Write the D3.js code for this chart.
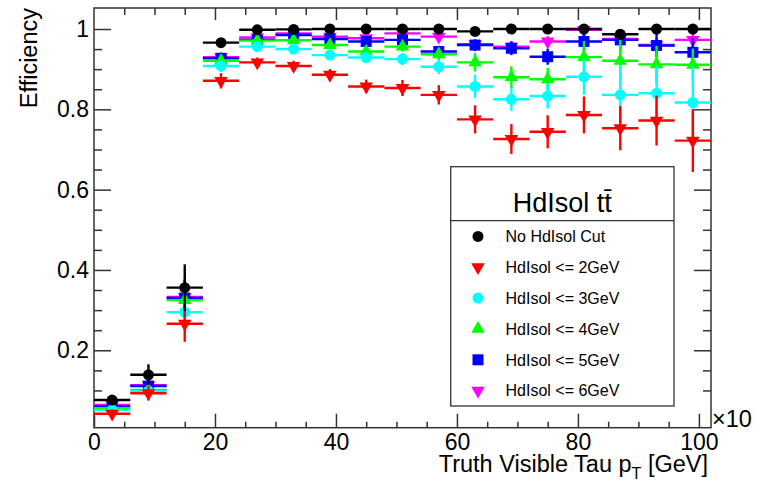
<!DOCTYPE html>
<html>
<head>
<meta charset="utf-8">
<script src="https://cdn.jsdelivr.net/npm/d3@7"></script>
<style>
  body { margin: 0; background: #fff; }
  svg { display: block; }
  text { font-family: "Liberation Sans", Arial, sans-serif; fill: #000; }
</style>
</head>
<body>
<script>
// bin centres of truth visible tau pT (6 GeV bins)
var ptBins = [3, 9, 15, 21, 27, 33, 39, 45, 51, 57, 63, 69, 75, 81, 87, 93, 99];
var binHalfWidth = 3;

var effNoCut = [0.076, 0.139, 0.356, 0.966, 0.998, 0.999, 1.0, 1.0, 1.0, 1.0, 0.994, 1.0, 1.0, 1.0, 0.987, 1.0, 1.0];
var errNoCut = [0.01, 0.026, 0.058, 0.012, 0.004, 0.003, 0.003, 0.003, 0.003, 0.003, 0.006, 0.003, 0.003, 0.003, 0.01, 0.003, 0.003];

var eff2 = [0.042, 0.093, 0.266, 0.871, 0.917, 0.908, 0.886, 0.857, 0.853, 0.836, 0.775, 0.726, 0.744, 0.786, 0.753, 0.772, 0.722];
var err2 = [0.01, 0.018, 0.045, 0.019, 0.012, 0.013, 0.014, 0.017, 0.02, 0.024, 0.035, 0.037, 0.041, 0.046, 0.055, 0.062, 0.078];

var eff3 = [0.051, 0.098, 0.295, 0.908, 0.956, 0.95, 0.935, 0.929, 0.925, 0.906, 0.857, 0.825, 0.833, 0.881, 0.836, 0.84, 0.817];
var err3 = [0.01, 0.017, 0.045, 0.015, 0.009, 0.01, 0.011, 0.013, 0.015, 0.018, 0.029, 0.029, 0.031, 0.045, 0.075, 0.07, 0.09];

var eff4 = [0.056, 0.101, 0.325, 0.921, 0.971, 0.972, 0.96, 0.944, 0.956, 0.937, 0.917, 0.88, 0.875, 0.93, 0.921, 0.912, 0.911];
var err4 = [0.01, 0.016, 0.045, 0.014, 0.008, 0.008, 0.01, 0.012, 0.012, 0.016, 0.023, 0.027, 0.028, 0.04, 0.052, 0.046, 0.04];

var eff5 = [0.06, 0.111, 0.33, 0.927, 0.973, 0.985, 0.975, 0.969, 0.973, 0.944, 0.96, 0.952, 0.931, 0.969, 0.973, 0.959, 0.942];
var err5 = [0.01, 0.016, 0.045, 0.013, 0.006, 0.005, 0.007, 0.008, 0.009, 0.014, 0.014, 0.017, 0.02, 0.028, 0.027, 0.03, 0.035];

var eff6 = [0.064, 0.113, 0.333, 0.93, 0.979, 0.989, 0.981, 0.977, 0.989, 0.981, 0.962, 0.956, 0.969, 0.998, 0.975, 0.96, 0.973];
var err6 = [0.01, 0.015, 0.045, 0.012, 0.005, 0.004, 0.005, 0.006, 0.005, 0.008, 0.012, 0.014, 0.013, 0.006, 0.014, 0.018, 0.02];

var xMajor = [0, 20, 40, 60, 80, 100];
var yMajor = [0.2, 0.4, 0.6, 0.8, 1.0];

// legend order (drawing order is reversed so black ends on top)
var series = [
    { label: "No HdIsol Cut",   eff: effNoCut, err: errNoCut, color: "#000000", shape: "circle" },
    { label: "HdIsol <= 2GeV", eff: eff2, err: err2, color: "#ff0000", shape: "down" },
    { label: "HdIsol <= 3GeV", eff: eff3, err: err3, color: "#00ffff", shape: "circle" },
    { label: "HdIsol <= 4GeV", eff: eff4, err: err4, color: "#00ff00", shape: "up" },
    { label: "HdIsol <= 5GeV", eff: eff5, err: err5, color: "#0000ff", shape: "square" },
    { label: "HdIsol <= 6GeV", eff: eff6, err: err6, color: "#ff00ff", shape: "down" }
];

var width = 758, height = 484;
var frame = { left: 94, right: 711, top: 8, bottom: 427.7 };
var frameColor = "#333";

var svg = d3.select("body").append("svg")
    .attr("width", width)
    .attr("height", height);

var x = d3.scaleLinear().domain([0, 102]).range([frame.left, frame.right]);
var y = d3.scaleLinear().domain([0.0072, 1.0523]).range([frame.bottom, frame.top]);

var xMinor = d3.range(5, 101, 5).filter(d => xMajor.indexOf(d) < 0);
var yMinor = d3.range(0.1, 1.04, 0.05).map(d => +d.toFixed(2)).filter(d => yMajor.indexOf(d) < 0);

function styleAxis(g) {
    g.select(".domain").remove();
    g.selectAll(".tick line").attr("stroke", frameColor).attr("stroke-width", 1.5);
}

// left axis
svg.append("g")
    .attr("transform", `translate(${frame.left},0)`)
    .call(d3.axisLeft(y).tickValues(yMajor).tickSize(-17).tickPadding(5)
        .tickFormat(d => d === 1 ? "1" : d3.format(".1f")(d)))
    .call(styleAxis)
    .call(g => g.selectAll("text").attr("font-size", 23).attr("font-family", null));
svg.append("g")
    .attr("transform", `translate(${frame.left},0)`)
    .call(d3.axisLeft(y).tickValues(yMinor).tickSize(-8).tickFormat(""))
    .call(styleAxis);

// right axis
svg.append("g")
    .attr("transform", `translate(${frame.right},0)`)
    .call(d3.axisRight(y).tickValues(yMajor).tickSize(-17).tickFormat(""))
    .call(styleAxis);
svg.append("g")
    .attr("transform", `translate(${frame.right},0)`)
    .call(d3.axisRight(y).tickValues(yMinor).tickSize(-8).tickFormat(""))
    .call(styleAxis);

// bottom axis
svg.append("g")
    .attr("transform", `translate(0,${frame.bottom})`)
    .call(d3.axisBottom(x).tickValues(xMajor).tickSize(-14).tickPadding(6).tickFormat(d3.format("d")))
    .call(styleAxis)
    .call(g => g.selectAll("text").attr("font-size", 23).attr("font-family", null));
svg.append("g")
    .attr("transform", `translate(0,${frame.bottom})`)
    .call(d3.axisBottom(x).tickValues(xMinor).tickSize(-6).tickFormat(""))
    .call(styleAxis);

// top axis
svg.append("g")
    .attr("transform", `translate(0,${frame.top})`)
    .call(d3.axisTop(x).tickValues(xMajor.filter(d => d > 0)).tickSize(-12).tickFormat(""))
    .call(styleAxis);
svg.append("g")
    .attr("transform", `translate(0,${frame.top})`)
    .call(d3.axisTop(x).tickValues(xMinor).tickSize(-7).tickFormat(""))
    .call(styleAxis);

// frame
svg.append("rect")
    .attr("x", frame.left).attr("y", frame.top)
    .attr("width", frame.right - frame.left)
    .attr("height", frame.bottom - frame.top)
    .attr("fill", "none")
    .attr("stroke", frameColor)
    .attr("stroke-width", 1.5);

// axis titles
var xTitle = svg.append("text")
    .attr("x", 708).attr("y", 471.5)
    .attr("text-anchor", "end")
    .attr("font-size", 23.5);
xTitle.append("tspan").text("Truth Visible Tau p");
xTitle.append("tspan").attr("font-size", 16).attr("dy", 7).text("T");
xTitle.append("tspan").attr("dy", -7).text(" [GeV]");

svg.append("text")
    .attr("transform", "translate(37,8) rotate(-90)")
    .attr("text-anchor", "end")
    .attr("font-size", 23.5)
    .text("Efficiency");

svg.append("text")
    .attr("x", 712).attr("y", 427)
    .attr("font-size", 23.5)
    .text("\u00d710");

function symbolPath(shape) {
    if (shape === "circle") return d3.symbol(d3.symbolCircle, 95)();
    if (shape === "square") return d3.symbol(d3.symbolSquare, 121)();
    return d3.symbol(d3.symbolTriangle, 80)();
}
function symbolTransform(shape, px, py) {
    return `translate(${px},${py})` + (shape === "down" ? " rotate(180)" : "");
}

// data: draw in reverse legend order
series.slice().reverse().forEach(function (s) {
    var pts = ptBins.map((c, i) => ({ c: c, v: s.eff[i], e: s.err[i] }));
    var g = svg.append("g").attr("stroke", s.color).attr("stroke-width", 2.4);

    g.selectAll(".xerr").data(pts).enter().append("line")
        .attr("x1", d => x(d.c - binHalfWidth)).attr("x2", d => x(d.c + binHalfWidth))
        .attr("y1", d => y(d.v)).attr("y2", d => y(d.v));

    g.selectAll(".yerr").data(pts).enter().append("line")
        .attr("x1", d => x(d.c)).attr("x2", d => x(d.c))
        .attr("y1", d => y(d.v - d.e)).attr("y2", d => y(Math.min(d.v + d.e, 1.0)));

    g.selectAll("path").data(pts).enter().append("path")
        .attr("d", symbolPath(s.shape))
        .attr("transform", d => symbolTransform(s.shape, x(d.c), y(d.v)))
        .attr("fill", s.color)
        .attr("stroke", "none");
});

// legend
var legend = { x0: 450.7, y0: 166.7, x1: 674, y1: 406, headerY: 220.7 };
svg.append("rect")
    .attr("x", legend.x0).attr("y", legend.y0)
    .attr("width", legend.x1 - legend.x0)
    .attr("height", legend.y1 - legend.y0)
    .attr("fill", "#fff")
    .attr("stroke", frameColor)
    .attr("stroke-width", 1.3);
svg.append("line")
    .attr("x1", legend.x0).attr("x2", legend.x1)
    .attr("y1", legend.headerY).attr("y2", legend.headerY)
    .attr("stroke", frameColor)
    .attr("stroke-width", 1.3);
svg.append("text")
    .attr("x", (legend.x0 + legend.x1) / 2).attr("y", 211.5)
    .attr("text-anchor", "middle")
    .attr("font-size", 27)
    .text("HdIsol tt\u0304");

var entry = svg.append("g").selectAll("g").data(series).enter().append("g")
    .attr("transform", (d, i) => `translate(0,${236.4 + i * 30.85})`);
entry.append("path")
    .attr("d", d => symbolPath(d.shape))
    .attr("transform", d => symbolTransform(d.shape, 478, 0))
    .attr("fill", d => d.color);
entry.append("text")
    .attr("x", 505.5).attr("dy", "0.36em")
    .attr("font-size", 16)
    .text(d => d.label);
</script>
</body>
</html>
